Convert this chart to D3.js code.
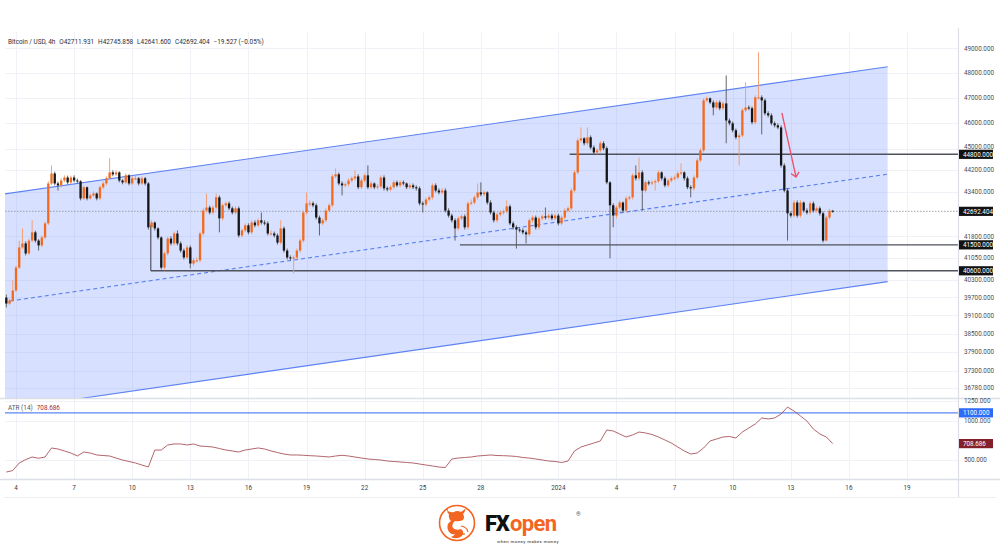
<!DOCTYPE html>
<html><head><meta charset="utf-8">
<script src="https://cdn.jsdelivr.net/npm/d3@7"></script>
<style>
html,body{margin:0;padding:0;background:#fff;}
svg{display:block;font-family:Roboto,"Liberation Sans",Arial,sans-serif;}
</style></head><body>
<svg id="chart" width="1000" height="549"></svg>
<script>
// ---------------- DATA ----------------
const symbolTitle = "Bitcoin / USD, 4h";
const headerValues = ["O42711.931", "H42745.858", "L42641.600", "C42692.404", "\u221219.527 (\u22120.05%)"];
const startTime = Date.UTC(2023, 11, 3, 12);   // first 4h candle
const stepHours = 4;
const firstOpen = 39690;

const closes = [
39490,39590,39930,40710,41410,41550,41200,41650,41940,41650,
41480,41760,42260,43710,44080,43710,43640,43820,43930,43750,
43930,43820,43790,43160,43570,43160,43270,43340,43160,43570,
43710,43900,44120,44050,44120,43820,43750,44010,43710,43900,
43900,43710,43900,43710,42120,42290,42080,41760,40710,41200,
41720,41550,41900,41550,41300,41060,41410,40850,40960,40960,
41900,42720,42830,42650,42830,43200,42440,42910,42980,42800,
42650,42800,41830,42010,42190,41940,42290,42190,42370,42290,
42260,41900,41900,41830,41580,42080,41300,41060,41030,41060,
41300,41650,42650,42980,42980,42910,42470,42260,42370,42720,
42910,43970,44050,43710,43640,43680,43820,43900,43970,43570,
43820,44010,43570,43710,43570,43600,43930,43530,43490,43570,
43750,43640,43750,43710,43570,43640,43570,43530,42980,42940,
43120,43200,43640,43450,43380,43450,42720,42540,42370,42080,
42440,42510,42120,42980,43010,43200,43380,43310,43380,43010,
42650,42370,42580,42650,42690,42870,42260,42120,42040,42010,
41940,41870,42370,42470,42120,42440,42510,42470,42540,42440,
42540,42260,42470,42720,42800,43450,44120,45330,45410,45220,
45450,45060,44870,44950,45220,45030,43750,42910,42540,42830,
43010,42720,43160,43200,44010,43900,44120,43450,43750,43710,
43750,43790,44120,43900,43640,43820,43900,43930,44080,44120,
43900,43570,43530,43930,44570,44950,46890,46970,46810,46610,
46810,46580,46770,46100,45990,45720,45450,45520,46500,46610,
46580,46030,47010,47010,46890,46380,46300,45990,45910,45830,
44380,43450,42620,42540,43010,42540,43010,42720,42650,42980,
42720,42800,42620,41650,42470,42711.931,42692.404];

const highs = [
39790,39660,40270,40780,41650,42080,41620,41720,42370,42000,
41700,41830,42330,43790,44380,44150,43780,43900,44010,44000,
44000,44010,43890,43830,43640,43600,43340,43420,43380,43640,
43790,43970,44650,44200,44190,44160,43860,44080,44050,43970,
43990,43950,43970,43950,43760,42370,42330,42120,41800,41270,
41790,41800,41970,42010,41620,41370,41480,41480,41030,41060,
41970,42800,43340,42900,42900,43340,43270,42980,43050,43050,
42870,42870,42870,42080,42260,42260,42370,42370,42440,42650,
42370,42330,42010,41970,41900,42370,42150,41370,41130,41130,
41370,41720,42720,43380,43090,43050,42980,42540,42440,42800,
42980,44050,44270,44120,43790,43750,43900,43970,44200,44050,
43900,44080,44380,43790,43750,43680,44010,44010,43600,43640,
43820,43820,43820,43820,43750,43710,43710,43640,43600,43050,
43200,43270,43710,43710,43530,43530,43530,42800,42610,42440,
42510,42580,42580,43050,43120,43270,43710,43750,43450,43420,
43090,42720,42650,42720,42760,43090,42940,42330,42190,42120,
42080,42010,42440,42540,42540,42510,42580,42830,42610,42610,
42610,42610,42540,42800,42870,43530,44200,45410,45830,45450,
45830,45520,45140,45030,45300,45300,45100,43790,42980,42910,
43090,43050,43240,43270,44080,44380,44680,44200,43820,43820,
43820,43860,44200,44160,43970,43900,43970,44010,44160,44460,
44160,43970,43640,44010,44650,45030,46970,47050,47010,46890,
46890,46890,46850,47890,46180,46060,45790,45600,46580,47610,
46690,46650,47090,48835,47090,46970,46460,46380,46060,45990,
45910,44460,43530,42690,43090,43090,43090,43050,42800,43050,
43050,42870,42870,42690,42540,42780,42745.858];

const lows = [
39360,39440,39540,39880,40660,41350,41130,41150,41600,41580,
41300,41420,41700,42200,43650,43640,43450,43570,43760,43680,
43690,43750,43720,43090,43100,43090,43120,43220,43090,43100,
43500,43640,43850,43980,43990,43750,43680,43700,43640,43650,
43830,43640,43660,43640,42040,42050,42000,41690,40640,40610,
41130,41480,41480,41480,41230,40990,40990,40680,40780,40880,
40890,41830,42650,42580,42580,42760,41940,42370,42840,42730,
42580,42580,41760,41760,41940,41870,41870,42120,42120,42220,
42190,41830,41830,41760,41510,41510,41230,40990,40960,40510,
40990,41230,41580,42580,42870,42840,42400,41830,42190,42290,
42650,42840,43900,43640,43270,43570,43600,43750,43820,43500,
43500,43750,43500,43500,43500,43500,43530,43450,43420,43420,
43500,43570,43570,43640,43500,43500,43500,43450,42910,42650,
42870,43050,43120,43380,43310,43310,42650,42470,42290,41650,
42010,42370,42040,42040,42910,42940,43120,43240,43240,42940,
42580,42290,42290,42510,42580,42620,42190,42040,41370,41940,
41870,41550,41800,42290,42040,42040,42370,42400,42400,42370,
42370,42190,42190,42400,42650,42720,43380,44050,45260,45140,
45140,44990,44800,44800,44870,44950,43680,41030,42120,42440,
42760,42650,42650,43090,43120,43820,43820,42720,43380,43640,
43640,43450,43720,43820,43570,43570,43750,43820,43860,44010,
43820,43500,43200,43450,43860,44500,44870,46810,46740,46300,
46540,46500,46500,45220,45910,45640,45370,44380,45450,46420,
46500,45950,45950,46930,45560,46300,46220,45910,45830,45760,
44300,43380,41650,42470,42470,42470,42470,42650,42580,42580,
42650,42650,42540,41580,41620,42400,42641.6];

// ATR(14), read every 2 candles (8h)
const atrStepCandles = 2;
const atrValues = [
347,366,462,505,538,522,538,653,640,615,
589,551,602,589,564,557,551,525,500,481,
462,436,411,627,627,691,704,704,691,704,
678,672,665,646,627,615,602,627,640,653,
640,615,595,576,564,564,560,555,551,545,
538,551,560,551,538,525,513,506,500,487,
481,475,468,462,449,436,424,411,404,513,
525,532,538,551,557,564,557,555,551,545,
532,525,513,500,487,481,468,487,615,665,
691,716,742,882,869,831,793,818,856,844,
825,793,755,716,665,615,576,589,653,742,
767,793,799,780,856,907,958,1035,1022,1035,
1085,1174,1123,1060,996,894,831,793,708.686];
const atrLast = 708.686;
const atrLevel = 1100;

const priceTicks = [49000,48000,47000,46000,45000,44200,43400,41800,41050,40300,39700,39100,38500,37900,37300,36780];
const atrTicks = [1250,1000,500];
const dateTicks = [
  [2023,11,4,"4"],[2023,11,7,"7"],[2023,11,10,"10"],[2023,11,13,"13"],[2023,11,16,"16"],
  [2023,11,19,"19"],[2023,11,22,"22"],[2023,11,25,"25"],[2023,11,28,"28"],[2024,0,1,"2024"],
  [2024,0,4,"4"],[2024,0,7,"7"],[2024,0,10,"10"],[2024,0,13,"13"],[2024,0,16,"16"],[2024,0,19,"19"]];

// channel (two anchor points per line)
const channelTimes = [Date.UTC(2023,11,3,8), Date.UTC(2024,0,18,0)];
const channelUpper = [43315, 48240];
const channelMiddle = [39544, 44053];
const channelLower = [36101, 40230];

// horizontal levels
const levelPrices = [44800, 41500, 40600];
const levelStarts = [Date.UTC(2024,0,1,14), Date.UTC(2023,11,26,22), Date.UTC(2023,11,10,23)];
const levelVertical = {t: Date.UTC(2023,11,10,23), from: 42200, to: 40600};
const lastPrice = 42692.404;

// red arrow annotation
const arrowStart = {t: Date.UTC(2024,0,12,13), p: 46392};
const arrowEnd = {t: Date.UTC(2024,0,13,6,30), p: 43949};

// ---------------- LAYOUT ----------------
const L = 5, R = 958, mainTop = 32, mainBottom = 398, atrTop = 399, atrBottom = 479, axisBottom = 497;
const svg = d3.select("#chart");

const x = d3.scaleUtc().domain([Date.UTC(2023,11,4), Date.UTC(2024,0,19)]).range([16, 907]);
const y = d3.scaleLog().domain([36780, 49000]).range([387.7, 48.3]);
const yA = d3.scaleLinear().domain([500, 1000]).range([460, 420.7]);
const tOf = i => startTime + i * stepHours * 3600e3;

const defs = svg.append("defs");
defs.append("clipPath").attr("id","clipMain").append("rect").attr("x",L).attr("y",mainTop).attr("width",R-L).attr("height",mainBottom-mainTop);
defs.append("clipPath").attr("id","clipAtr").append("rect").attr("x",L).attr("y",atrTop).attr("width",R-L).attr("height",atrBottom-atrTop);

svg.append("rect").attr("width",1000).attr("height",549).attr("fill","#fff");

// grid
const grid = svg.append("g");
dateTicks.forEach(d => {
  const xx = Math.round(x(Date.UTC(d[0],d[1],d[2]))) + 0.5;
  grid.append("line").attr("x1",xx).attr("x2",xx).attr("y1",mainTop).attr("y2",atrBottom).attr("stroke","#f0f2f7");
});
priceTicks.forEach(p => {
  const yy = Math.round(y(p)) + 0.5;
  grid.append("line").attr("x1",L).attr("x2",R).attr("y1",yy).attr("y2",yy).attr("stroke","#f0f2f7");
});
atrTicks.forEach(v => {
  const yy = Math.round(yA(v)) + 0.5;
  grid.append("line").attr("x1",L).attr("x2",R).attr("y1",yy).attr("y2",yy).attr("stroke","#f0f2f7");
});

// channel
const gMain = svg.append("g").attr("clip-path","url(#clipMain)");
const cx0 = x(channelTimes[0]), cx1 = x(channelTimes[1]);
gMain.append("path")
  .attr("d", `M${cx0},${y(channelUpper[0])}L${cx1},${y(channelUpper[1])}L${cx1},${y(channelLower[1])}L${cx0},${y(channelLower[0])}Z`)
  .attr("fill","rgba(41,98,255,0.19)");
[channelUpper, channelLower].forEach(c => {
  gMain.append("line").attr("x1",cx0).attr("y1",y(c[0])).attr("x2",cx1).attr("y2",y(c[1]))
    .attr("stroke","#5d82f2").attr("stroke-width",1.1);
});
gMain.append("line").attr("x1",cx0).attr("y1",y(channelMiddle[0])).attr("x2",cx1).attr("y2",y(channelMiddle[1]))
  .attr("stroke","#5d82f2").attr("stroke-width",1.1).attr("stroke-dasharray","4,3");

// last price dotted line
gMain.append("line").attr("x1",L).attr("x2",R).attr("y1",y(lastPrice)).attr("y2",y(lastPrice))
  .attr("stroke","#8a8d96").attr("stroke-width",0.8).attr("stroke-dasharray","1.5,1.5");

// levels
levelPrices.forEach((p,i) => {
  gMain.append("line").attr("x1",x(levelStarts[i])).attr("x2",R).attr("y1",y(p)).attr("y2",y(p))
    .attr("stroke","#50535c").attr("stroke-width",1.4);
});
gMain.append("line").attr("x1",x(levelVertical.t)).attr("x2",x(levelVertical.t))
  .attr("y1",y(levelVertical.from)).attr("y2",y(levelVertical.to)).attr("stroke","#50535c").attr("stroke-width",1.2);

// candles
const candles = closes.map((c,i) => {
  const o = i === 0 ? firstOpen : closes[i-1];
  return {t: tOf(i), o, c, h: Math.max(highs[i], o, c), l: Math.min(lows[i], o, c)};
});
const gC = gMain.append("g");
candles.forEach(d => {
  const up = d.c >= d.o;
  const xx = x(d.t);
  gC.append("line").attr("x1",xx).attr("x2",xx).attr("y1",y(d.h)).attr("y2",y(d.l))
    .attr("stroke", up ? "#f39a6a" : "#555").attr("stroke-width",0.9);
  const y0 = y(Math.max(d.o,d.c)), y1 = y(Math.min(d.o,d.c));
  gC.append("rect").attr("x",xx-1.15).attr("width",2.3).attr("y",y0).attr("height",Math.max(1,y1-y0))
    .attr("fill", up ? "#f26a1f" : "#161616");
});

// arrow
const ax0 = x(arrowStart.t), ay0 = y(arrowStart.p), ax1 = x(arrowEnd.t), ay1 = y(arrowEnd.p);
const ang = Math.atan2(ay1-ay0, ax1-ax0);
const hl = 6, ha = 0.75;
gMain.append("path")
  .attr("d", `M${ax0},${ay0}L${ax1},${ay1}M${ax1-hl*Math.cos(ang-ha)},${ay1-hl*Math.sin(ang-ha)}L${ax1},${ay1}L${ax1-hl*Math.cos(ang+ha)},${ay1-hl*Math.sin(ang+ha)}`)
  .attr("fill","none").attr("stroke","#f0506a").attr("stroke-width",1.3);

// header
const hdr = svg.append("text").attr("x",8).attr("y",44).attr("font-size",6.4).attr("fill","#2a2e39");
hdr.append("tspan").text(symbolTitle);
headerValues.forEach(v => hdr.append("tspan").attr("dx",4).text(v));

// ---------- ATR pane ----------
const gA = svg.append("g").attr("clip-path","url(#clipAtr)");
gA.append("line").attr("x1",L).attr("x2",R).attr("y1",yA(atrLevel)).attr("y2",yA(atrLevel))
  .attr("stroke","#5b86f5").attr("stroke-width",1.4);
const atrLine = d3.line().x((v,k) => x(tOf(k*atrStepCandles))).y(v => yA(v));
gA.append("path").attr("d", atrLine(atrValues)).attr("fill","none").attr("stroke","#a9535c").attr("stroke-width",0.9);
const atrHdr = svg.append("text").attr("x",8).attr("y",410).attr("font-size",6.4);
atrHdr.append("tspan").attr("fill","#555").text("ATR (14)");
atrHdr.append("tspan").attr("dx",4).attr("fill","#a0303e").text(atrLast.toFixed(3));

// separators
svg.append("line").attr("x1",0).attr("x2",1000).attr("y1",398.5).attr("y2",398.5).attr("stroke","#dcdfe6").attr("stroke-width",1.6);
svg.append("line").attr("x1",0).attr("x2",1000).attr("y1",479.5).attr("y2",479.5).attr("stroke","#dcdfe6").attr("stroke-width",1.6);
svg.append("line").attr("x1",R+0.5).attr("x2",R+0.5).attr("y1",mainTop-4).attr("y2",axisBottom).attr("stroke","#dcdfe6").attr("stroke-width",1.2);
svg.append("line").attr("x1",4).attr("x2",996).attr("y1",axisBottom+0.5).attr("y2",axisBottom+0.5).attr("stroke","#eceef2");

// right axis labels (shifted clear of the boxed labels)
const boxYs = levelPrices.map(p => y(p)).concat([y(lastPrice)]);
const gAx = svg.append("g").attr("font-size",6.3).attr("fill","#4a4d55");
priceTicks.forEach(p => {
  let base = y(p) + 2.2;
  boxYs.forEach(b => {
    if (Math.abs(y(p) - b) < 9 && y(p) < b) base = Math.min(base, b - 5.2);
    if (Math.abs(y(p) - b) < 9 && y(p) >= b) base = Math.max(base, b + 10.5);
  });
  gAx.append("text").attr("x",964).attr("y",base).text(p.toFixed(3));
});
atrTicks.forEach(v => {
  gAx.append("text").attr("x",964).attr("y",yA(v)+2.2).text(v.toFixed(3));
});
function boxLabel(yy, txt, bg) {
  svg.append("rect").attr("x",959).attr("y",yy-4.6).attr("width",34).attr("height",9.2).attr("fill",bg);
  svg.append("text").attr("x",963).attr("y",yy+2.2).attr("font-size",6.3).attr("fill","#fff").text(txt);
}
levelPrices.forEach(p => boxLabel(y(p), p.toFixed(3), "#131313"));
boxLabel(y(lastPrice), lastPrice.toFixed(3), "#131313");
boxLabel(yA(atrLevel), atrLevel.toFixed(3), "#2f6bf6");
boxLabel(yA(atrLast), atrLast.toFixed(3), "#84202c");

// time axis
const gT = svg.append("g").attr("font-size",6.3).attr("fill","#3a3d45").attr("text-anchor","middle");
dateTicks.forEach(d => {
  gT.append("text").attr("x",x(Date.UTC(d[0],d[1],d[2]))).attr("y",490).text(d[3]);
});

// ---------- logo ----------
const logo = svg.append("g");
const lc = {x:457, y:523};
logo.append("circle").attr("cx",lc.x).attr("cy",lc.y).attr("r",17.5).attr("fill","none").attr("stroke","#f26522").attr("stroke-width",1.6);
logo.append("path").attr("fill","#f26522")
  .attr("d",`M${lc.x-9},${lc.y-12} q3,2 6,1 q3,-2 7,0 q3,-2 5,-4 q-1,4 -3,6 q2,3 0,6 q-4,2 -8,1 q-4,3 -2,7 q3,3 8,1 q4,3 1,7 q-5,4 -11,1 q3,-1 4,-3 q-5,1 -7,-4 q-2,-6 3,-9 q-3,-3 -2,-7 q-3,-2 -1,-7z`);
logo.append("path").attr("fill","none").attr("stroke","#f26522").attr("stroke-width",1.2)
  .attr("d",`M${lc.x+4},${lc.y+3} q6,1 7,6 M${lc.x-2},${lc.y+8} q4,4 10,3`);
logo.append("text").attr("x",485).attr("y",531).attr("font-size",22).attr("font-weight",900)
  .attr("font-family","Roboto, Arial, sans-serif").attr("fill","#111").attr("letter-spacing",-1.2).text("FX");
logo.append("text").attr("x",510).attr("y",531).attr("font-size",22).attr("font-weight",700)
  .attr("font-family","Roboto, Arial, sans-serif").attr("fill","#f26522").attr("letter-spacing",-0.6).text("open");
logo.append("text").attr("x",576).attr("y",516).attr("font-size",6).attr("fill","#555").text("\u00ae");
logo.append("text").attr("x",497).attr("y",543).attr("font-size",4.4).attr("fill","#222").attr("letter-spacing",0.4)
  .text("when money makes money");
</script>
</body></html>
